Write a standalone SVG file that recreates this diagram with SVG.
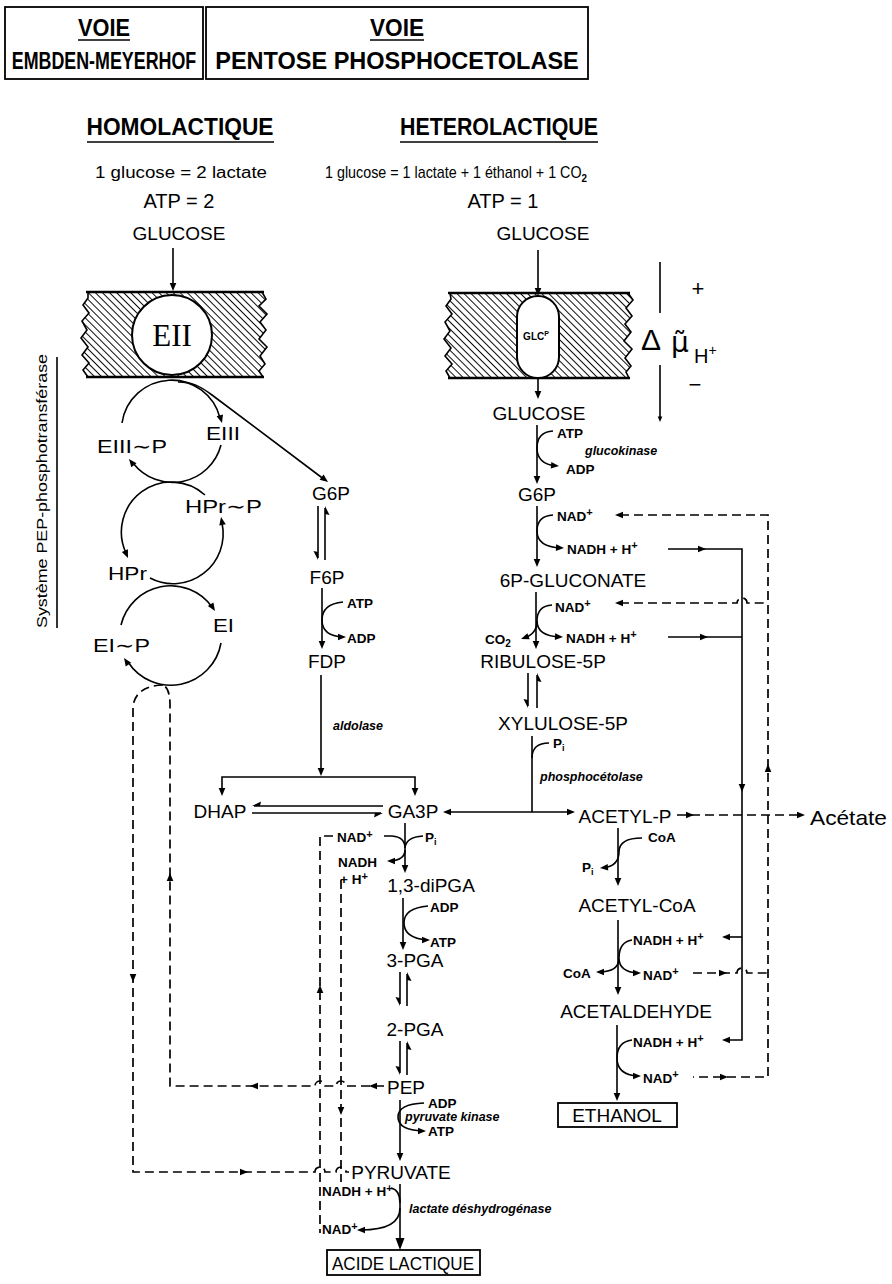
<svg xmlns="http://www.w3.org/2000/svg" width="892" height="1284" viewBox="0 0 892 1284">
<defs>
<style>
text{font-family:"Liberation Sans",Arial,Helvetica,sans-serif;fill:#000}
.h{font-size:24px;font-weight:bold}
.m{font-size:19px}
.s{font-size:13.5px;font-weight:bold}
.e{font-size:12.5px;font-weight:bold;font-style:italic}
.f{font-size:16px}
.ln{fill:none;stroke:#000;stroke-width:1.6}
.th{fill:none;stroke:#000;stroke-width:2.4}
.d{fill:none;stroke:#000;stroke-width:1.7;stroke-dasharray:9 5}
.box{fill:none;stroke:#000;stroke-width:1.8}
</style>
<path id="ah" d="M0,0 L-8,-3.3 L-8,3.3 Z"/>
<path id="hp" d="M0,0 L-9,4.5 L-8,0 Z"/>
<path id="bh" d="M0,0 L-12,-4.5 L-12,4.5 Z"/>
<pattern id="hatch" width="5" height="5" patternUnits="userSpaceOnUse" patternTransform="rotate(-45)"><line x1="0" y1="0" x2="0" y2="5" stroke="#000" stroke-width="1.9"/></pattern>
</defs>
<rect width="892" height="1284" fill="#fff"/>

<g id="headers">
<rect class="box" x="5" y="7" width="198" height="72"/>
<rect class="box" x="206" y="7" width="382" height="72"/>
<text class="h" x="104" y="36" text-anchor="middle" textLength="52" lengthAdjust="spacingAndGlyphs">VOIE</text>
<line class="ln" x1="78" y1="40" x2="130" y2="40"/>
<text class="h" text-anchor="middle" transform="translate(104,69) scale(0.744,1)">EMBDEN-MEYERHOF</text>
<text class="h" x="397" y="36" text-anchor="middle" textLength="54" lengthAdjust="spacingAndGlyphs">VOIE</text>
<line class="ln" x1="370" y1="40" x2="424" y2="40"/>
<text class="h" text-anchor="middle" transform="translate(397,69) scale(0.98,1)">PENTOSE PHOSPHOCETOLASE</text>
<text class="h" x="180" y="135" text-anchor="middle" textLength="187" lengthAdjust="spacingAndGlyphs">HOMOLACTIQUE</text>
<line class="ln" x1="87" y1="142" x2="274" y2="142"/>
<text class="h" x="499" y="135" text-anchor="middle" textLength="198" lengthAdjust="spacingAndGlyphs">HETEROLACTIQUE</text>
<line class="ln" x1="400" y1="142" x2="598" y2="142"/>
<text class="f" x="181" y="178" text-anchor="middle" textLength="172" lengthAdjust="spacingAndGlyphs">1 glucose = 2 lactate</text>
<text class="f" transform="translate(325,178) scale(0.895,1)">1 glucose = 1 lactate + 1 éthanol + 1 CO<tspan dy="4" font-size="11" font-weight="bold">2</tspan></text>
<text x="179" y="208" font-size="20" text-anchor="middle">ATP = 2</text>
<text x="503" y="208" font-size="20" text-anchor="middle">ATP = 1</text>
<text class="m" x="179" y="240" text-anchor="middle">GLUCOSE</text>
<text class="m" x="543" y="240" text-anchor="middle">GLUCOSE</text>
</g>

<g id="membrane-left">
<polygon fill="url(#hatch)" points="88,292 262,292 266,299 259,306 267,314 260,322 266,330 259,339 267,347 260,356 265,364 259,371 263,377 88,377 83,370 89,363 82,355 88,347 81,338 87,330 82,321 89,313 83,305 88,298"/>
<polyline class="ln" stroke-width="1.2" points="262,292 266,299 259,306 267,314 260,322 266,330 259,339 267,347 260,356 265,364 259,371 263,377"/>
<polyline class="ln" stroke-width="1.2" points="88,292 88,298 83,305 89,313 82,321 87,330 81,338 88,347 82,355 89,363 83,370 88,377"/>
<line class="th" x1="86" y1="292" x2="264" y2="292"/>
<line class="th" x1="86" y1="377" x2="264" y2="377"/>
<circle cx="172" cy="335" r="40" fill="#fff" stroke="#000" stroke-width="2"/>
<text x="172" y="346" font-size="31" text-anchor="middle" style="font-family:'Liberation Serif',serif">EII</text>
</g>

<g id="membrane-right">
<polygon fill="url(#hatch)" points="450,293 628,293 633,300 626,308 632,316 625,324 631,332 624,341 632,349 625,358 631,366 626,372 629,378 450,378 446,371 452,364 445,356 451,348 444,339 450,331 445,322 452,314 446,306 451,299"/>
<polyline class="ln" stroke-width="1.2" points="628,293 633,300 626,308 632,316 625,324 631,332 624,341 632,349 625,358 631,366 626,372 629,378"/>
<polyline class="ln" stroke-width="1.2" points="450,293 451,299 446,306 452,314 445,322 450,331 444,339 451,348 445,356 452,364 446,371 450,378"/>
<line class="th" x1="448" y1="293" x2="630" y2="293"/>
<line class="th" x1="448" y1="378" x2="630" y2="378"/>
<rect x="517" y="296" width="42" height="82" rx="21" fill="#fff" stroke="#000" stroke-width="2"/>
<text x="536" y="340" font-size="10" font-weight="bold" text-anchor="middle">GLC<tspan dy="-4" font-size="7">P</tspan></text>
</g>

<g id="proton-gradient">
<line class="ln" x1="660" y1="262" x2="660" y2="313"/>
<line class="ln" x1="660" y1="365" x2="660" y2="418"/>
<use href="#ah" transform="translate(660,422) rotate(90) scale(0.7)"/>
<text x="698" y="296" font-size="22" text-anchor="middle">+</text>
<text x="695" y="392" font-size="22" text-anchor="middle">−</text>
<text x="641" y="350" font-size="30">Δ</text>
<text x="671" y="352" font-size="28" style="font-family:'DejaVu Sans',sans-serif">μ̃</text>
<text x="694" y="363" font-size="20">H<tspan dy="-8" font-size="14">+</tspan></text>
</g>

<g id="pts">
<text x="47" y="628" font-size="15" transform="rotate(-90 47 628)" textLength="274" lengthAdjust="spacingAndGlyphs">Système PEP-phosphotransférase</text>
<line class="ln" x1="57" y1="357" x2="57" y2="628"/>
<path class="ln" d="M122,423 A50,50 0 0 1 220,418"/>
<use href="#ah" transform="translate(222,423) rotate(74)"/>
<path class="ln" d="M221,445 A50,50 0 0 1 133,463"/>
<use href="#ah" transform="translate(129,459) rotate(232)"/>
<path class="ln" d="M178,382 C192,382 200,386 212,395 L325,480"/>
<use href="#ah" transform="translate(328,482) rotate(37)"/>
<path class="ln" d="M205,495 A50,50 0 0 0 126,553"/>
<use href="#ah" transform="translate(128,558) rotate(67)"/>
<path class="ln" d="M150,578 A50,50 0 0 0 222,523"/>
<use href="#ah" transform="translate(221,517) rotate(259)"/>
<path class="ln" d="M121,625 A51,51 0 0 1 212,607"/>
<use href="#ah" transform="translate(215,611) rotate(57)"/>
<path class="ln" d="M221,643 A51,51 0 0 1 128,662"/>
<use href="#ah" transform="translate(124,658) rotate(236)"/>
<text class="m" x="97" y="453" textLength="70" lengthAdjust="spacingAndGlyphs">EIII∼P</text>
<text class="m" x="206" y="440" textLength="34" lengthAdjust="spacingAndGlyphs">EIII</text>
<text class="m" x="185" y="513" textLength="77" lengthAdjust="spacingAndGlyphs">HPr∼P</text>
<text class="m" x="108" y="580" textLength="39" lengthAdjust="spacingAndGlyphs">HPr</text>
<text class="m" x="213" y="632" textLength="21" lengthAdjust="spacingAndGlyphs">EI</text>
<text class="m" x="93" y="652" textLength="57" lengthAdjust="spacingAndGlyphs">EI∼P</text>
</g>

<g id="connectors">
<line class="ln" x1="173" y1="248" x2="173" y2="288"/>
<use href="#ah" transform="translate(173,291) rotate(90)"/>
<line class="ln" x1="538" y1="250" x2="538" y2="293"/>
<use href="#ah" transform="translate(538,296) rotate(90)"/>
<line class="ln" x1="538" y1="379" x2="538" y2="396"/>
<use href="#ah" transform="translate(538,399) rotate(90)"/>

<line class="ln" x1="537" y1="425" x2="537" y2="481"/>
<use href="#ah" transform="translate(537,484) rotate(90)"/>
<path class="ln" d="M553,431 Q537,432 537,448 Q537,464 556,466"/>
<use href="#ah" transform="translate(559,466) rotate(5)"/>
<line class="ln" x1="537" y1="506" x2="537" y2="564"/>
<use href="#ah" transform="translate(537,567) rotate(90)"/>
<path class="ln" d="M553,515 Q537,516 537,531 Q537,547 561,548"/>
<use href="#ah" transform="translate(564,548) rotate(3)"/>
<path class="ln" d="M668,549 L742,549 L742,1040 L726,1040"/>
<use href="#ah" transform="translate(706,549)"/>
<use href="#ah" transform="translate(722,1040) rotate(180)"/>
<use href="#ah" transform="translate(742,792) rotate(90)"/>
<line class="ln" x1="668" y1="637" x2="742" y2="637"/>
<use href="#ah" transform="translate(708,637)"/>
<line class="ln" x1="742" y1="937" x2="726" y2="937"/>
<use href="#ah" transform="translate(722,937) rotate(180)"/>
<path class="d" d="M620,515 L768,515 L768,1077 L693,1077"/>
<use href="#ah" transform="translate(615,515) rotate(180)"/>
<use href="#ah" transform="translate(768,764) rotate(-90)"/>
<use href="#ah" transform="translate(728,1077)"/>
<path class="d" d="M620,603 L737,603 A5,5 0 0 1 747,603 L768,603"/>
<use href="#ah" transform="translate(615,603) rotate(180)"/>
<path class="d" d="M693,973 L737,973 A5,5 0 0 1 747,973 L768,973"/>
<use href="#ah" transform="translate(727,973)"/>

<line class="ln" x1="536" y1="592" x2="536" y2="646"/>
<use href="#ah" transform="translate(536,649) rotate(90)"/>
<path class="ln" d="M552,605 Q537,606 537,621 Q537,636 560,637"/>
<use href="#ah" transform="translate(563,637) rotate(3)"/>
<path class="ln" d="M537,621 Q537,634 524,638"/>
<use href="#ah" transform="translate(521,639) rotate(160)"/>
<line class="ln" x1="528" y1="673" x2="528" y2="706"/>
<use href="#hp" transform="translate(528,708) rotate(90)"/>
<line class="ln" x1="537" y1="708" x2="537" y2="675"/>
<use href="#hp" transform="translate(537,673) rotate(-90)"/>
<line class="ln" x1="532" y1="736" x2="532" y2="812"/>
<path class="ln" d="M532,758 Q532,743 549,743"/>
<line class="ln" x1="446" y1="812" x2="571" y2="812"/>
<use href="#ah" transform="translate(443,812) rotate(180)"/>
<use href="#ah" transform="translate(575,812)"/>
<path class="d" d="M677,815 L800,815"/>
<use href="#ah" transform="translate(694,815)"/>
<use href="#ah" transform="translate(805,815)"/>
<line class="ln" x1="618" y1="828" x2="618" y2="883"/>
<use href="#ah" transform="translate(618,886) rotate(90)"/>
<path class="ln" d="M642,838 Q619,838 619,852 Q619,866 603,868"/>
<use href="#ah" transform="translate(600,868) rotate(175)"/>
<line class="ln" x1="618" y1="920" x2="618" y2="992"/>
<use href="#ah" transform="translate(618,995) rotate(90)"/>
<path class="ln" d="M632,940 Q619,942 619,958 Q619,972 599,972 M619,958 Q619,972 638,973"/>
<use href="#ah" transform="translate(596,972) rotate(180)"/>
<use href="#ah" transform="translate(641,973)"/>
<line class="ln" x1="617" y1="1025" x2="617" y2="1098"/>
<use href="#ah" transform="translate(617,1101) rotate(90)"/>
<path class="ln" d="M632,1040 Q617,1042 617,1058 Q617,1075 638,1076"/>
<use href="#ah" transform="translate(641,1076)"/>

<line class="ln" x1="318" y1="506" x2="318" y2="558"/>
<use href="#hp" transform="translate(318,560) rotate(90)"/>
<line class="ln" x1="325" y1="560" x2="325" y2="508"/>
<use href="#hp" transform="translate(325,506) rotate(-90)"/>
<line class="ln" x1="322" y1="588" x2="322" y2="646"/>
<use href="#ah" transform="translate(322,649) rotate(90)"/>
<path class="ln" d="M343,602 Q322,604 322,620 Q322,636 343,637"/>
<use href="#ah" transform="translate(346,637)"/>
<line class="ln" x1="321" y1="675" x2="321" y2="772"/>
<use href="#ah" transform="translate(321,776) rotate(90)"/>
<path class="ln" d="M222,793 L222,777 L415,777 L415,793"/>
<use href="#ah" transform="translate(222,796) rotate(90)"/>
<use href="#ah" transform="translate(415,796) rotate(90)"/>
<line class="ln" x1="383" y1="806" x2="254" y2="806"/>
<use href="#hp" transform="translate(252,806) rotate(180)"/>
<line class="ln" x1="252" y1="813" x2="381" y2="813"/>
<use href="#hp" transform="translate(383,813)"/>
<line class="ln" x1="405" y1="823" x2="405" y2="870"/>
<use href="#ah" transform="translate(405,873) rotate(90)"/>
<path class="ln" d="M384,836 L392,836 Q405,837 405,848 M423,836 Q406,837 405,848 M405,850 Q405,860 390,861"/>
<use href="#ah" transform="translate(387,861) rotate(180)"/>
<path class="d" d="M333,836 L320,836 L320,1233"/>
<use href="#ah" transform="translate(320,985) rotate(-90)"/>
<path class="d" d="M341,880 L341,1182"/>
<use href="#ah" transform="translate(341,1115) rotate(90)"/>
<line class="ln" x1="403" y1="898" x2="403" y2="947"/>
<use href="#ah" transform="translate(403,950) rotate(90)"/>
<path class="ln" d="M428,906 Q404,908 404,923 Q404,938 427,940"/>
<use href="#ah" transform="translate(430,940)"/>
<line class="ln" x1="400" y1="972" x2="400" y2="1004"/>
<use href="#hp" transform="translate(400,1006) rotate(90)"/>
<line class="ln" x1="407" y1="1006" x2="407" y2="974"/>
<use href="#hp" transform="translate(407,972) rotate(-90)"/>
<line class="ln" x1="400" y1="1041" x2="400" y2="1073"/>
<use href="#hp" transform="translate(400,1075) rotate(90)"/>
<line class="ln" x1="407" y1="1075" x2="407" y2="1043"/>
<use href="#hp" transform="translate(407,1041) rotate(-90)"/>
<path class="d" d="M384,1086 L346,1086 A5,5 0 0 0 336,1086 L325,1086 A5,5 0 0 0 315,1086 L170,1086 L170,705 Q170,688 163,685"/>
<use href="#ah" transform="translate(369,1086) rotate(180)"/>
<use href="#ah" transform="translate(250,1086) rotate(180)"/>
<use href="#ah" transform="translate(170,873) rotate(-90)"/>
<path class="d" d="M163,685 Q136,686 133,706 L133,1172 L315,1172 A5,5 0 0 1 325,1172 L336,1172 A5,5 0 0 1 346,1172 L349,1172"/>
<use href="#ah" transform="translate(133,982) rotate(90)"/>
<use href="#ah" transform="translate(248,1172)"/>
<line class="ln" x1="400" y1="1100" x2="400" y2="1158"/>
<use href="#ah" transform="translate(400,1161) rotate(90)"/>
<path class="ln" d="M424,1103 Q398,1104 398,1117 Q398,1130 423,1131"/>
<use href="#ah" transform="translate(426,1131)"/>
<line class="ln" x1="400" y1="1184" x2="400" y2="1240"/>
<use href="#bh" transform="translate(400,1250) rotate(90)"/>
<path class="ln" d="M391,1188 Q400,1190 400,1203 M400,1208 Q400,1230 361,1230"/>
<use href="#ah" transform="translate(357,1230) rotate(180)"/>
</g>

<g id="left-pathway">
<text class="m" x="331" y="500" text-anchor="middle">G6P</text>
<text class="m" x="327" y="584" text-anchor="middle">F6P</text>
<text class="s" x="347" y="608">ATP</text>
<text class="s" x="347" y="643">ADP</text>
<text class="m" x="327" y="668" text-anchor="middle">FDP</text>
<text class="e" x="333" y="730">aldolase</text>
<text class="m" x="220" y="818" text-anchor="middle">DHAP</text>
<text class="m" x="413" y="818" text-anchor="middle">GA3P</text>
<text class="s" x="337" y="842">NAD<tspan font-size="11" dy="-4">+</tspan></text>
<text class="s" x="425" y="842">P<tspan font-size="9" dy="3">i</tspan></text>
<text class="s" x="338" y="867">NADH</text>
<text class="s" x="340" y="884">+ H<tspan font-size="11" dy="-4">+</tspan></text>
<text class="m" x="431" y="892" text-anchor="middle">1,3-diPGA</text>
<text class="s" x="430" y="912">ADP</text>
<text class="s" x="430" y="947">ATP</text>
<text class="m" x="415" y="967" text-anchor="middle">3-PGA</text>
<text class="m" x="415" y="1036" text-anchor="middle">2-PGA</text>
<text class="m" x="406" y="1094" text-anchor="middle">PEP</text>
<text class="s" x="428" y="1108">ADP</text>
<text class="e" x="405" y="1121">pyruvate kinase</text>
<text class="s" x="428" y="1136">ATP</text>
<text class="m" x="401" y="1179" text-anchor="middle">PYRUVATE</text>
<text class="s" x="322" y="1196">NADH + H<tspan font-size="11" dy="-4">+</tspan></text>
<text class="s" x="322" y="1234">NAD<tspan font-size="11" dy="-4">+</tspan></text>
<text class="e" x="409" y="1213">lactate déshydrogénase</text>
</g>

<g id="acide-lactique">
<rect class="box" x="327" y="1250" width="153" height="25"/>
<text class="m" x="403" y="1270" text-anchor="middle" textLength="142" lengthAdjust="spacingAndGlyphs">ACIDE LACTIQUE</text>
</g>

<g id="right-pathway">
<text class="m" x="539" y="420" text-anchor="middle">GLUCOSE</text>
<text class="s" x="557" y="438">ATP</text>
<text class="e" x="585" y="455">glucokinase</text>
<text class="s" x="566" y="474">ADP</text>
<text class="m" x="537" y="501" text-anchor="middle">G6P</text>
<text class="s" x="557" y="521">NAD<tspan font-size="11" dy="-5">+</tspan></text>
<text class="s" x="567" y="554">NADH + H<tspan font-size="11" dy="-5">+</tspan></text>
<text class="m" x="573" y="587" text-anchor="middle">6P-GLUCONATE</text>
<text class="s" x="555" y="612">NAD<tspan font-size="11" dy="-5">+</tspan></text>
<text class="s" x="566" y="643">NADH + H<tspan font-size="11" dy="-5">+</tspan></text>
<text class="s" x="485" y="644">CO<tspan font-size="10" dy="3">2</tspan></text>
<text class="m" x="543" y="668" text-anchor="middle">RIBULOSE-5P</text>
<text class="m" x="563" y="730" text-anchor="middle">XYLULOSE-5P</text>
<text class="s" x="553" y="748">P<tspan font-size="9" dy="3">i</tspan></text>
<text class="e" x="540" y="781">phosphocétolase</text>
<text class="m" x="625" y="823" text-anchor="middle">ACETYL-P</text>
<text x="810" y="825" font-size="21" textLength="77" lengthAdjust="spacingAndGlyphs">Acétate</text>
<text class="s" x="648" y="842">CoA</text>
<text class="s" x="582" y="872">P<tspan font-size="9" dy="3">i</tspan></text>
<text class="m" x="637" y="912" text-anchor="middle">ACETYL-CoA</text>
<text class="s" x="633" y="945">NADH + H<tspan font-size="11" dy="-5">+</tspan></text>
<text class="s" x="563" y="978">CoA</text>
<text class="s" x="643" y="980">NAD<tspan font-size="11" dy="-5">+</tspan></text>
<text class="m" x="636" y="1018" text-anchor="middle">ACETALDEHYDE</text>
<text class="s" x="633" y="1047">NADH + H<tspan font-size="11" dy="-5">+</tspan></text>
<text class="s" x="643" y="1083">NAD<tspan font-size="11" dy="-5">+</tspan></text>
</g>

<g id="ethanol">
<rect class="box" x="558" y="1103" width="119" height="24"/>
<text class="m" x="617" y="1122" text-anchor="middle">ETHANOL</text>
</g>
</svg>
